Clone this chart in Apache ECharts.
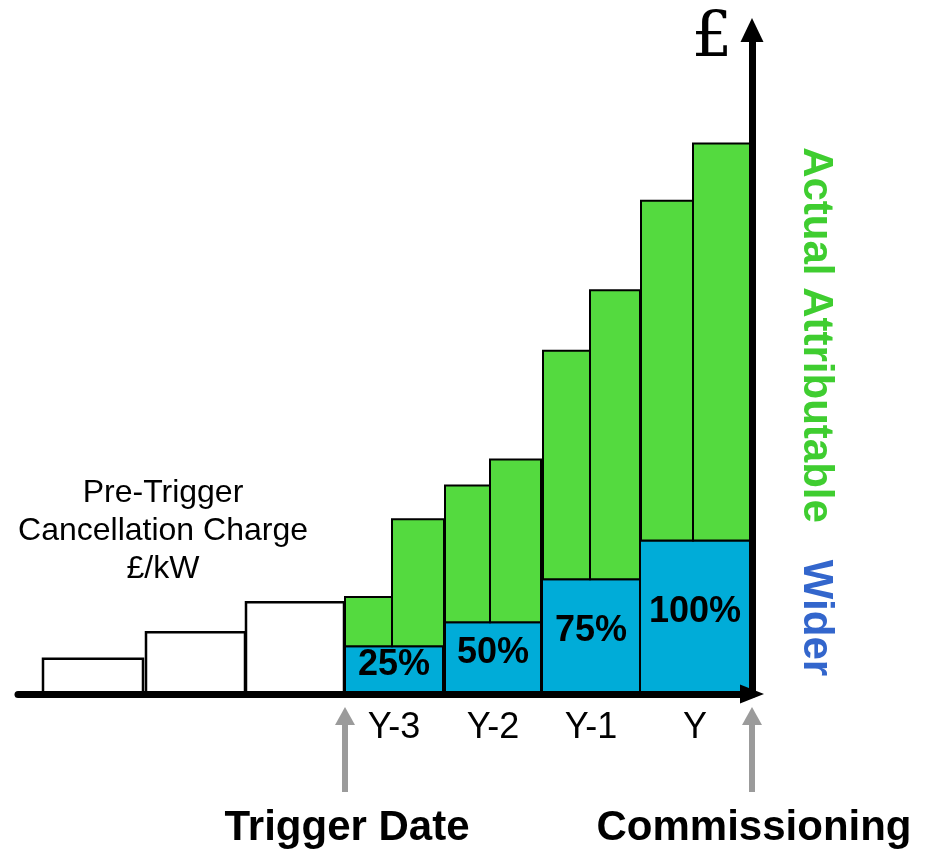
<!DOCTYPE html>
<html>
<head>
<meta charset="utf-8">
<script src="https://cdn.jsdelivr.net/npm/echarts@6/dist/echarts.min.js"></script>
<style>
  html, body { margin: 0; padding: 0; background: #fff; }
  #chart { width: 930px; height: 852px; }
</style>
</head>
<body>
<div id="chart"></div>
<script>
// x: years relative to commissioning (0), y: charge in arbitrary £ units
const preStart = [-7.09, -6.06, -5.06];
const preEnd = [-6.09, -5.07, -4.08];
const preCharge = [5.3, 9.3, 13.8];

const years = ["Y-3", "Y-2", "Y-1", "Y"];
const yearStart = [-4.07, -3.07, -2.10, -1.12];
const yearEnd = [-3.09, -2.11, -1.12, -0.02];
const widerShare = ["25%", "50%", "75%", "100%"];
const widerValue = [7.2, 10.8, 17.3, 23.1];

const actualStart = [-4.07, -3.60, -3.07, -2.62, -2.09, -1.62, -1.11, -0.59];
const actualEnd = [-3.60, -3.08, -2.62, -2.11, -1.62, -1.12, -0.59, -0.02];
const actualTop = [14.6, 26.3, 31.4, 35.3, 51.7, 60.8, 74.3, 82.9];

const markers = ["Trigger Date", "Commissioning"];
const markerX = [-4.07, 0];

const GREEN = "#54da3f";
const BLUE = "#00acd8";
const SANS = "Liberation Sans, Arial, sans-serif";

const chart = echarts.init(document.getElementById("chart"));

function rectFrom(api) {
  const p0 = api.coord([api.value(0), api.value(3)]);
  const p1 = api.coord([api.value(1), api.value(2)]);
  return { x: p0[0], y: p0[1], width: p1[0] - p0[0], height: p1[1] - p0[1] };
}

function plainRects(fill, lw) {
  return function (params, api) {
    return {
      type: "rect",
      shape: rectFrom(api),
      style: { fill: fill, stroke: "#000", lineWidth: lw },
    };
  };
}

const preData = preStart.map((s, i) => [s, preEnd[i], 0, preCharge[i]]);
const widerData = yearStart.map((s, i) => [s, yearEnd[i], 0, widerValue[i]]);
const actualData = actualStart.map((s, i) => [
  s,
  actualEnd[i],
  widerValue[Math.floor(i / 2)],
  actualTop[i],
]);

chart.setOption({
  animation: false,
  grid: { left: 18, right: 178, top: 30, bottom: 158 },
  xAxis: {
    type: "value",
    min: -7.34,
    max: 0,
    z: 5,
    axisLine: {
      onZero: true,
      symbol: ["none", "triangle"],
      symbolSize: [19, 24],
      lineStyle: { color: "#000", width: 7 },
    },
    axisTick: { show: false },
    axisLabel: { show: false },
    splitLine: { show: false },
  },
  yAxis: {
    type: "value",
    min: 0,
    max: 100,
    z: 5,
    axisLine: {
      show: true,
      onZero: true,
      symbol: ["none", "triangle"],
      symbolSize: [23, 24],
      lineStyle: { color: "#000", width: 7 },
    },
    axisTick: { show: false },
    axisLabel: { show: false },
    splitLine: { show: false },
  },
  graphic: [
    {
      type: "text",
      x: 163,
      y: 474,
      style: {
        text: "Pre-Trigger\nCancellation Charge\n£/kW",
        font: "32px " + SANS,
        fill: "#000",
        align: "center",
        verticalAlign: "top",
        lineHeight: 38,
      },
    },
    {
      type: "text",
      x: 712,
      y: 40,
      style: {
        text: "£",
        font: "64px DejaVu Serif, serif",
        fill: "#000",
        align: "center",
        verticalAlign: "middle",
      },
    },
    {
      type: "text",
      x: 816,
      y: 335,
      rotation: -Math.PI / 2,
      style: {
        text: "Actual Attributable",
        font: "bold 42px " + SANS,
        fill: "#3fcd30",
        align: "center",
        verticalAlign: "middle",
      },
    },
    {
      type: "text",
      x: 816,
      y: 618,
      rotation: -Math.PI / 2,
      style: {
        text: "Wider",
        font: "bold 42px " + SANS,
        fill: "#3366cc",
        align: "center",
        verticalAlign: "middle",
      },
    },
  ],
  series: [
    {
      type: "custom",
      name: "pre-trigger",
      renderItem: plainRects("#fff", 2.5),
      encode: { x: [0, 1], y: [2, 3] },
      data: preData,
    },
    {
      type: "custom",
      name: "wider",
      clip: false,
      encode: { x: [0, 1], y: [2, 3] },
      data: widerData,
      renderItem: function (params, api) {
        const r = rectFrom(api);
        const i = params.dataIndex;
        return {
          type: "group",
          children: [
            {
              type: "rect",
              shape: r,
              style: { fill: BLUE, stroke: "#000", lineWidth: 2 },
            },
            {
              type: "text",
              x: r.x + r.width / 2,
              y: r.y + r.height / 2 - 5,
              style: {
                text: widerShare[i],
                font: "bold 36px " + SANS,
                fill: "#000",
                align: "center",
                verticalAlign: "middle",
              },
            },
            {
              type: "text",
              x: r.x + r.width / 2,
              y: r.y + r.height + 34,
              style: {
                text: years[i],
                font: "36px " + SANS,
                fill: "#000",
                align: "center",
                verticalAlign: "middle",
              },
            },
          ],
        };
      },
    },
    {
      type: "custom",
      name: "actual",
      renderItem: plainRects(GREEN, 2),
      encode: { x: [0, 1], y: [2, 3] },
      data: actualData,
    },
    {
      type: "custom",
      name: "markers",
      clip: false,
      encode: { x: 0 },
      data: markerX.map((x) => [x]),
      renderItem: function (params, api) {
        const p = api.coord([api.value(0), 0]);
        const x = p[0];
        const tip = p[1] + 13;
        const tail = p[1] + 98;
        return {
          type: "group",
          children: [
            {
              type: "rect",
              shape: { x: x - 3, y: tip + 15, width: 6, height: tail - tip - 15 },
              style: { fill: "#9b9b9b" },
            },
            {
              type: "polygon",
              shape: { points: [[x, tip], [x - 10, tip + 18], [x + 10, tip + 18]] },
              style: { fill: "#9b9b9b" },
            },
            {
              type: "text",
              x: x + 2,
              y: tail + 36,
              style: {
                text: markers[params.dataIndex],
                font: "bold 42px " + SANS,
                fill: "#000",
                align: "center",
                verticalAlign: "middle",
              },
            },
          ],
        };
      },
    },
  ],
});
</script>
</body>
</html>
